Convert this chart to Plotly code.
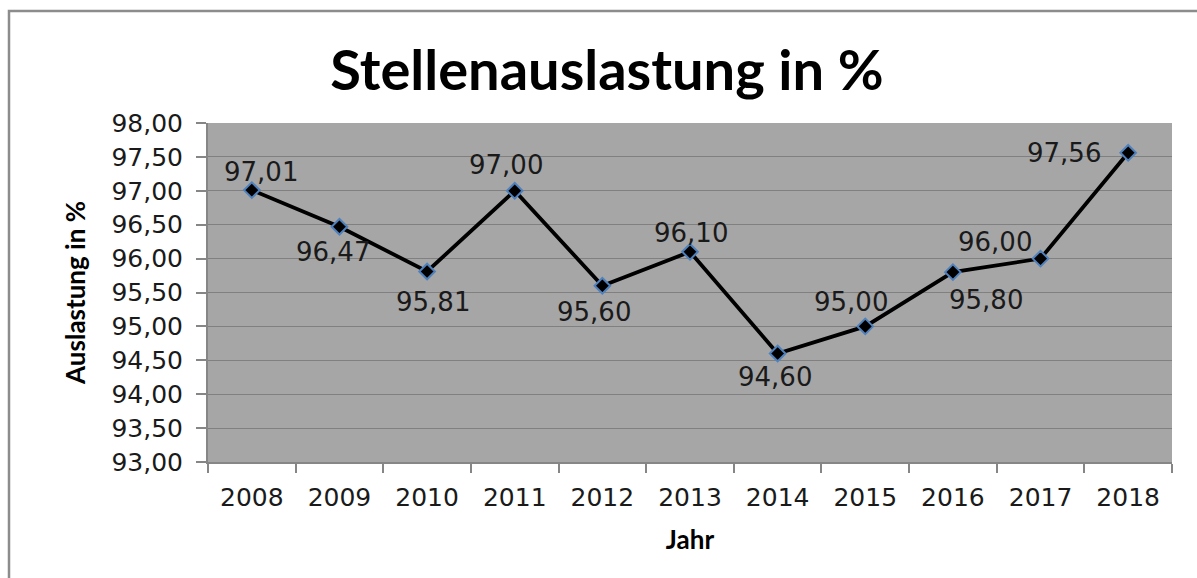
import plotly.graph_objects as go

years = ["2008", "2009", "2010", "2011", "2012", "2013", "2014", "2015", "2016", "2017", "2018"]
values = [97.01, 96.47, 95.81, 97.00, 95.60, 96.10, 94.60, 95.00, 95.80, 96.00, 97.56]

# label offsets from each point, in pixels (dx right, dy down) – styling only
label_dx = [9, -6, 6, -9, -8, 1, -3, -14, 33, -46, -64]
label_dy = [-18, 25, 31, -26, 26, -19, 23, -24, 28, -17, 0]

title_text = "Stellenauslastung in %"
y_title = "Auslastung in %"
x_title = "Jahr"

W, H = 1197, 578
L, R, T, B = 208, 25, 123, 116
pw, ph = W - L - R, H - T - B

fig = go.Figure()
fig.add_trace(go.Scatter(
    x=years, y=values, mode="lines+markers",
    line=dict(color="black", width=3.8),
    marker=dict(symbol="diamond", size=12, color="black",
                line=dict(color="#4F81BD", width=2)),
    cliponaxis=False,
    showlegend=False,
    hoverinfo="skip",
))

# data labels placed at each category (by index) with small pixel offsets
for i, (v, dx, dy) in enumerate(zip(values, label_dx, label_dy)):
    fig.add_annotation(
        x=i, y=v, xref="x", yref="y",
        text=f"{v:.2f}".replace(".", ","),
        showarrow=False, xanchor="center", yanchor="middle",
        xshift=dx, yshift=-dy,
        font=dict(family="DejaVu Sans", size=26, color="#1a1a1a"),
    )

fig.update_layout(
    width=W, height=H,
    margin=dict(l=L, r=R, t=T, b=B),
    paper_bgcolor="white",
    plot_bgcolor="#A6A6A6",
    separators=",.",
    title=dict(text=f"<b>{title_text}</b>", x=607 / W, xref="container", xanchor="center",
               y=1 - 70 / H, yref="container", yanchor="middle",
               font=dict(family="Lato", size=56, color="black")),
    xaxis=dict(
        type="category", tickson="boundaries", range=[-0.5, len(years) - 0.5],
        ticks="outside", ticklen=9, tickcolor="#868686", tickwidth=2,
        showline=True, linecolor="#868686", linewidth=2,
        showgrid=False,
        tickfont=dict(family="DejaVu Sans", size=25, color="#1a1a1a"),
        ticklabelstandoff=12,
        title=dict(text=f"<b>{x_title}</b>", font=dict(family="Lato", size=26, color="black"),
                   standoff=20),
    ),
    yaxis=dict(
        range=[93, 98], dtick=0.5, tickformat=".2f",
        ticks="outside", ticklen=10, tickcolor="#868686", tickwidth=2,
        showline=True, linecolor="#868686", linewidth=2,
        showgrid=True, gridcolor="#808080", gridwidth=1,
        zeroline=False,
        tickfont=dict(family="DejaVu Sans", size=25, color="#1a1a1a"),
        ticklabelstandoff=8,
        title=dict(text=f"<b>{y_title}</b>", font=dict(family="Lato", size=26, color="black"),
                   standoff=18),
    ),
)

# outer chart border (clipped at right/bottom like the reference)
fig.add_shape(type="rect", xref="paper", yref="paper",
              x0=(9 - L) / pw, x1=(W + 20 - L) / pw,
              y0=(-B - 20) / ph, y1=(H - B - 11) / ph,
              line=dict(color="#8c8c8c", width=2.5), fillcolor="rgba(0,0,0,0)", layer="below")

fig.write_html("out.html", config={"displayModeBar": False},
               post_script="document.body.style.margin='0';")
